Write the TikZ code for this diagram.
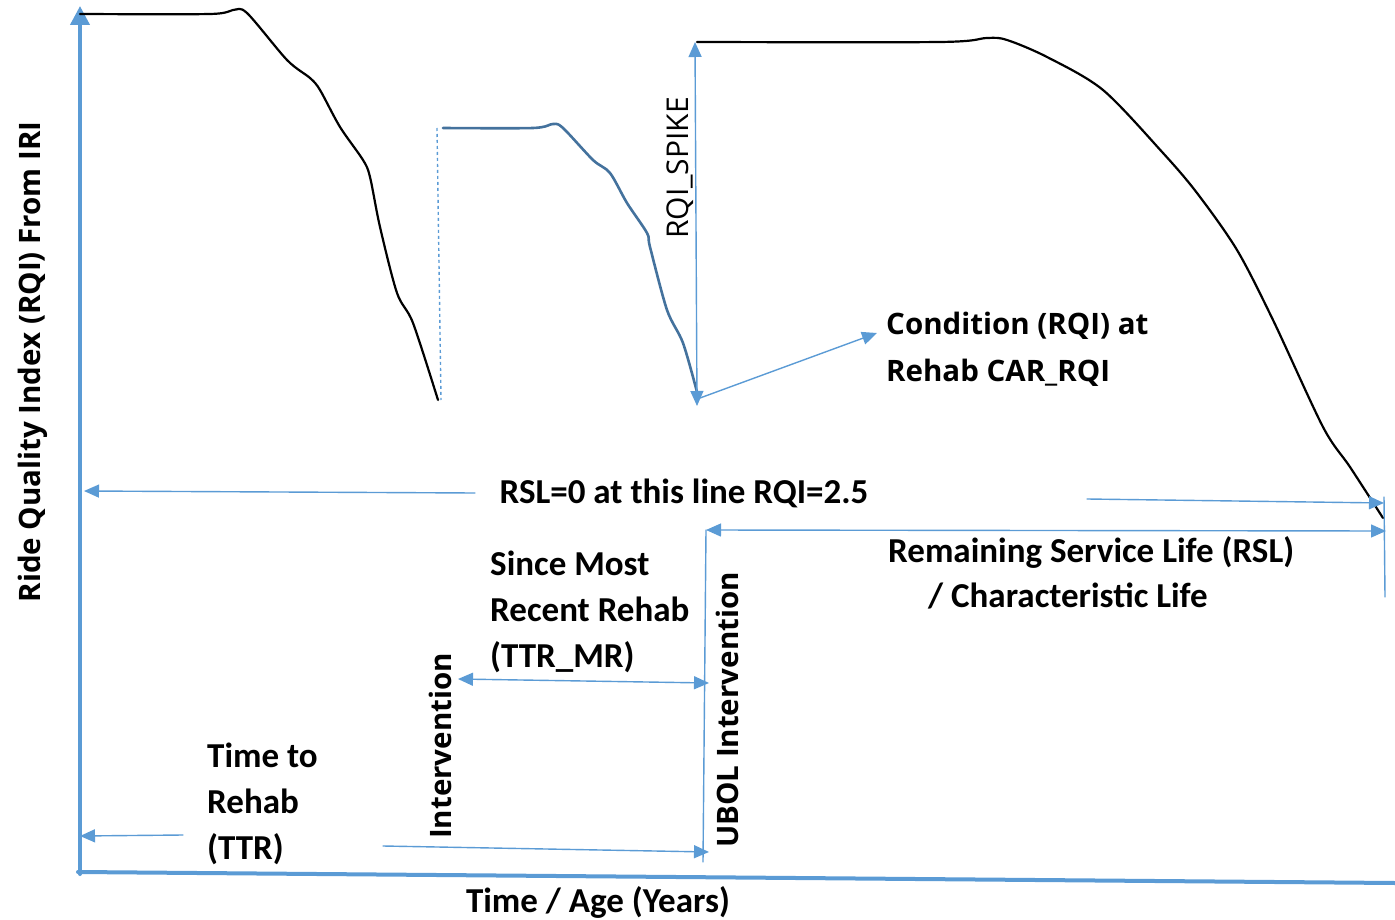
\documentclass[tikz,border=0pt]{standalone}
\usepackage{fontspec}
\setmainfont{Carlito}
\newfontfamily\segoe{Open Sans}
\usepackage{tikz}
\usetikzlibrary{arrows.meta}
\definecolor{axisblue}{HTML}{5B9BD5}
\definecolor{steel}{HTML}{44729D}
\tikzset{lbl/.style={font=\fontsize{35}{46}\selectfont\bfseries,inner sep=0pt},
seg/.style={font=\segoe\fontsize{29.5}{47}\selectfont\bfseries,inner sep=0pt},
thin/.style={color=axisblue,line width=1.4pt},
thick/.style={color=axisblue,line width=4pt}}
\begin{document}
\begin{tikzpicture}[line cap=round,line join=round,>={Triangle[length=15pt,width=13pt]},x=1pt,y=-1pt]
\useasboundingbox (0,0) rectangle (1395,920);
\coordinate (o) at (80,874);
\coordinate (ytop) at (80,6);
\coordinate (xend) at (1395,883);
\draw[thick,-{Triangle[length=19pt,width=19pt]}] (o) -- (ytop);
\draw[thick] (78,872) -- (xend);
\draw[line width=2.2pt] plot[smooth,tension=0.5] coordinates {(80,14) (210,14) (233,10) (247,13) (287,60) (310,78) (320,90) (340,127) (363,160) (370,177) (380,227) (397,293) (413,323) (438,400)};
\draw[thin,dashed,line cap=butt] (437,128) -- (441,400);
\draw[steel,line width=2.6pt] plot[smooth,tension=0.5] coordinates {(443,128) (533,128) (553,124) (563,128) (593,160) (610,173) (627,203) (647,233) (650,247) (667,310) (683,343) (697,392)};
\draw[line width=2.2pt] plot[smooth,tension=0.5] coordinates {(697,42) (940,42) (987,38) (1007,40) (1047,57) (1103,90) (1163,153) (1197,193) (1237,250) (1273,320) (1323,427) (1350,467) (1383,518)};
\coordinate (sbot) at (697,406);
\coordinate (stop) at (695,42);
\draw[thin,<->] (sbot) -- (stop);
\node[seg,font=\segoe\fontsize{30}{46}\selectfont,rotate=90] (rqispike) at (680,168) {RQI\_SPIKE};
\coordinate (cstart) at (700,398);
\coordinate (cend) at (877,333);
\draw[thin,->] (cstart) -- (cend);
\node[seg,align=left,anchor=base west] (car) at (886,381) {Condition (RQI) at\\Rehab CAR\_RQI};
\node[lbl] (rsl0) at (684,493) {RSL=0 at this line RQI=2.5};
\coordinate (rla) at (475,493);
\coordinate (rlb) at (84,491);
\draw[thin,->] (rla) -- (rlb);
\coordinate (rra) at (1087,499);
\coordinate (rrb) at (1384,503);
\draw[thin,->] (rra) -- (rrb);
\coordinate (ua) at (706,530);
\coordinate (ub) at (1386,531);
\coordinate (ubot) at (703,862);
\draw[thin,<->] (ua) -- (ub);
\draw[thin] (ua) -- (ubot);
\draw[thin] (1384,497) -- (1385,597);
\node[lbl,font=\fontsize{35}{45}\selectfont\bfseries,align=left,anchor=base west] (rsl) at (888,607) {Remaining Service Life (RSL)\\\hspace*{40pt}/ Characteristic Life};
\node[seg,rotate=90] (ubol) at (727,710) {UBOL Intervention};
\node[lbl,align=left,anchor=base west] (since) at (490,667) {Since Most\\Recent Rehab\\(TTR\_MR)};
\coordinate (ma) at (458,679);
\coordinate (mb) at (709,683);
\draw[thin,<->] (ma) -- (mb);
\node[seg,rotate=90] (interv) at (440,746) {Intervention};
\node[lbl,align=left,anchor=base west] (ttr) at (207,859) {Time to\\Rehab\\(TTR)};
\coordinate (ta) at (183,835);
\coordinate (tb) at (80,836);
\draw[thin,->] (ta) -- (tb);
\coordinate (tc) at (383,846);
\coordinate (td) at (709,852);
\draw[thin,->] (tc) -- (td);
\node[lbl] (xlab) at (598,902) {Time / Age (Years)};
\node[seg,rotate=90] (ylab) at (33,362) {Ride Quality Index (RQI) From IRI};
\end{tikzpicture}
\end{document}
